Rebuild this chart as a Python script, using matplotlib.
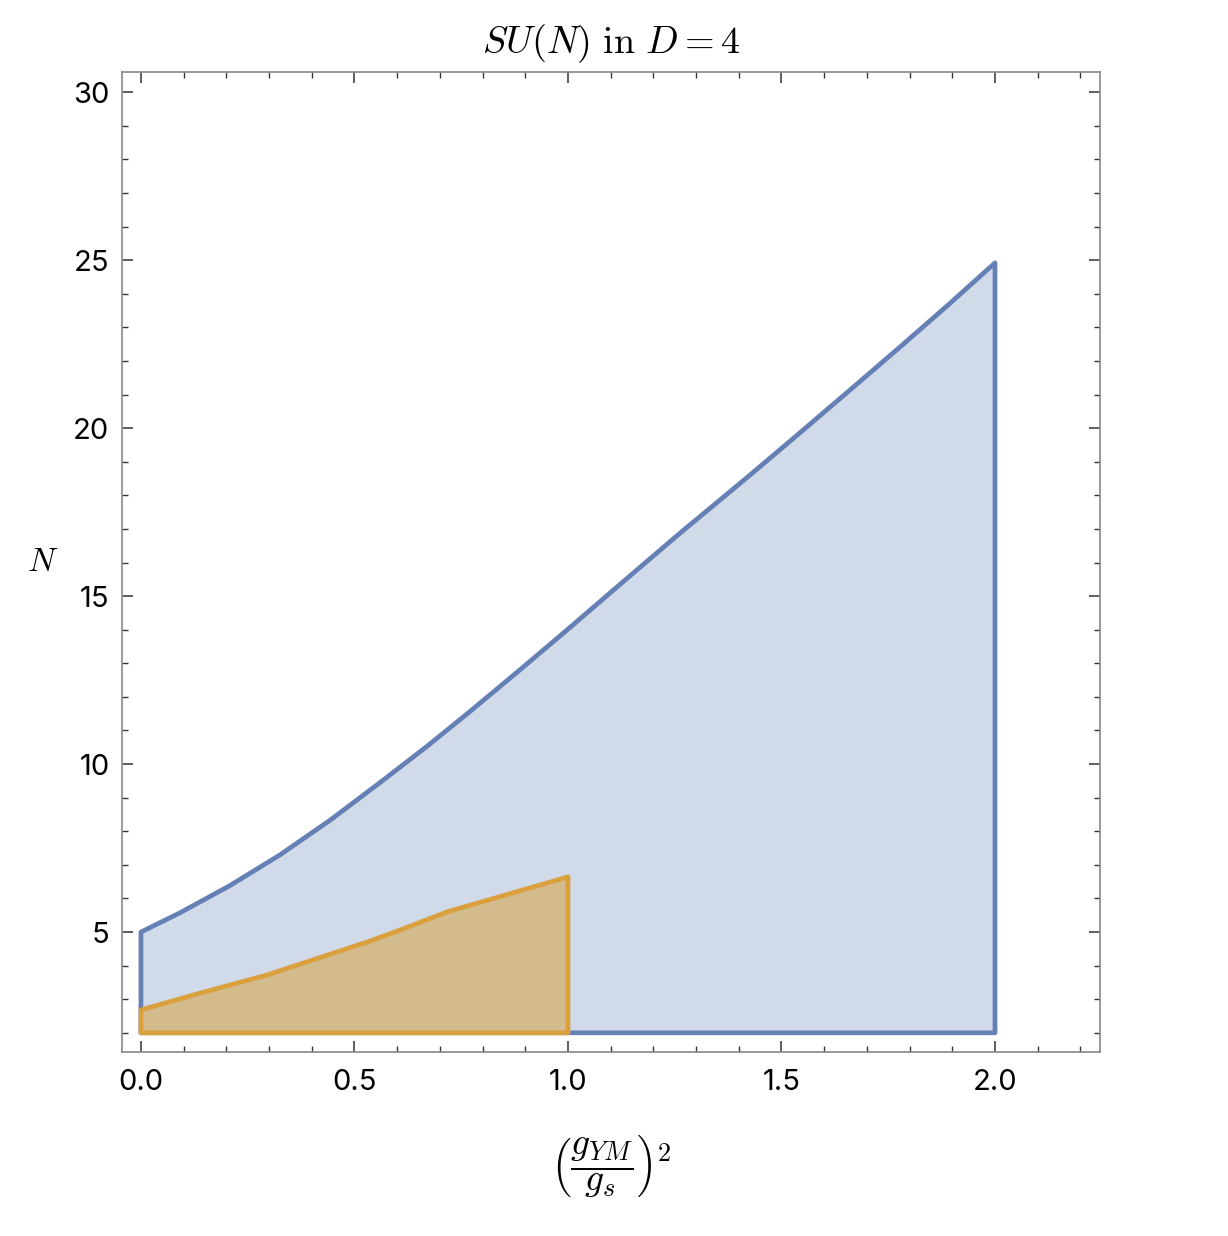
import matplotlib.pyplot as plt
from matplotlib.ticker import MultipleLocator

plt.rcParams["mathtext.fontset"] = "cm"
plt.rcParams["font.family"] = ["Inter", "DejaVu Sans"]

# upper boundary of the SU(N) region (blue)
blue_x = [0.0, 0.091, 0.208, 0.326, 0.443, 0.560, 0.669, 0.770, 0.888,
          1.005, 1.122, 1.262, 1.426, 1.543, 1.660, 1.778, 1.895, 2.0]
blue_n = [5.0, 5.57, 6.38, 7.30, 8.33, 9.45, 10.52, 11.56, 12.81,
          14.07, 15.35, 16.87, 18.60, 19.86, 21.13, 22.42, 23.72, 24.92]

# upper boundary of the smaller region (orange)
orange_x = [0.0, 0.138, 0.295, 0.529, 0.607, 0.717, 1.0]
orange_n = [2.68, 3.18, 3.72, 4.70, 5.06, 5.60, 6.64]

n_min = 2.0

blue_line = "#6580b4"
blue_fill = "#d0dae8"
orange_line = "#dba03e"
orange_fill = "#d3bb8c"

fig = plt.figure(figsize=(12.28, 12.36), dpi=100)
ax = fig.add_axes([0.0993, 0.1489, 0.7965, 0.7928])

# blue region
bx = [blue_x[0]] + blue_x + [blue_x[-1], blue_x[0]]
bn = [n_min] + blue_n + [n_min, n_min]
ax.fill(bx, bn, facecolor=blue_fill, edgecolor=blue_line, linewidth=3.4, joinstyle="round")

# orange region
ox = [orange_x[0]] + orange_x + [orange_x[-1], orange_x[0]]
on = [n_min] + orange_n + [n_min, n_min]
ax.fill(ox, on, facecolor=orange_fill, edgecolor=orange_line, linewidth=3.4, joinstyle="round")

ax.set_xlim(-0.0445, 2.246)
ax.set_ylim(1.43, 30.6)

ax.xaxis.set_major_locator(MultipleLocator(0.5))
ax.xaxis.set_minor_locator(MultipleLocator(0.1))
ax.yaxis.set_major_locator(MultipleLocator(5))
ax.yaxis.set_minor_locator(MultipleLocator(1))
ax.xaxis.set_major_formatter(plt.FuncFormatter(lambda v, p: f"{v:.1f}"))
ax.yaxis.set_major_formatter(plt.FuncFormatter(lambda v, p: f"{v:.0f}"))

ax.tick_params(which="both", direction="in", top=True, right=True,
               color="#333333", labelsize=21, pad=9)
ax.tick_params(axis="x", which="both", pad=12)
ax.tick_params(which="major", length=8, width=1.1)
ax.tick_params(which="minor", length=4, width=1.0)
ax.tick_params(axis="x", which="both", labeltop=False)
ax.tick_params(axis="y", which="both", labelright=False)
for s in ax.spines.values():
    s.set_color("#888888")
    s.set_linewidth(1.2)

ax.set_title(r"$SU(N)\ \mathrm{in}\ D=4$", fontsize=27.5, pad=14)
ax.set_xlabel(r"$\left(\dfrac{g_{YM}}{g_s}\right)^2$", fontsize=27, labelpad=26)
ax.set_ylabel(r"$N$", fontsize=24, rotation=0, labelpad=22, va="center")

fig.savefig("out.png", dpi=100)
